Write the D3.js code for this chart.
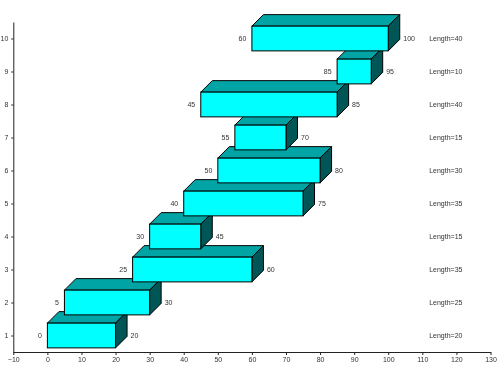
<!DOCTYPE html>
<html>
<head>
<meta charset="utf-8">
<script src="https://cdn.jsdelivr.net/npm/d3@7"></script>
<style>
  body { margin: 0; background: #fff; }
  svg { will-change: transform; }
  text { font-family: "Liberation Sans", Arial, sans-serif; font-size: 7px; fill: #333;
         -webkit-font-smoothing: antialiased; }
</style>
</head>
<body>
<svg id="chart" width="500" height="375"></svg>
<script>
const rows = [1, 2, 3, 4, 5, 6, 7, 8, 9, 10];
const starts = [0, 5, 25, 30, 40, 50, 55, 45, 85, 60];
const ends = [20, 30, 60, 45, 75, 80, 70, 85, 95, 100];
const xTicks = [-10, 0, 10, 20, 30, 40, 50, 60, 70, 80, 90, 100, 110, 120, 130];

const DEPTH = 11.5;
const HALF = 0.375; // half bar height in row units

const svg = d3.select("#chart");

const x = d3.scaleLinear().domain([-10, 130]).range([13.3, 490.5]);
const y = d3.scaleLinear().domain([0.5, 10.5]).range([352, 22]);

// axes
const xAxis = svg
  .append("g")
  .attr("transform", `translate(0, ${y(0.5)})`)
  .call(d3.axisBottom(x).tickValues(xTicks).tickSize(3).tickSizeOuter(0).tickPadding(2));
const yAxis = svg
  .append("g")
  .attr("transform", `translate(${x(-10)}, 0)`)
  .call(d3.axisLeft(y).tickValues(rows).tickSize(2).tickSizeOuter(0).tickPadding(3));

[xAxis, yAxis].forEach((a) => {
  a.selectAll("path").attr("stroke", "#222");
  a.selectAll("line").attr("stroke", "#222");
  a.selectAll("text").attr("fill", "#333").style("font-size", "7px")
    .style("font-family", '"Liberation Sans", Arial, sans-serif');
});

const data = rows.map((r, i) => ({ row: r, start: starts[i], end: ends[i] }));

const bars = svg
  .selectAll("g.bar")
  .data(data)
  .enter()
  .append("g")
  .attr("class", "bar");

const pts = (arr) => arr.map((p) => p.join(",")).join(" ");

// top face
bars
  .append("polygon")
  .attr("points", (d) => {
    const x0 = x(d.start), x1 = x(d.end), yt = y(d.row + HALF);
    return pts([[x0, yt], [x0 + DEPTH, yt - DEPTH], [x1 + DEPTH, yt - DEPTH], [x1, yt]]);
  })
  .attr("fill", "#00a4a4")
  .attr("stroke", "#000")
  .attr("stroke-width", 1);

// side face
bars
  .append("polygon")
  .attr("points", (d) => {
    const x1 = x(d.end), yt = y(d.row + HALF), yb = y(d.row - HALF);
    return pts([[x1, yt], [x1 + DEPTH, yt - DEPTH], [x1 + DEPTH, yb - DEPTH], [x1, yb]]);
  })
  .attr("fill", "#005656")
  .attr("stroke", "#000")
  .attr("stroke-width", 1);

// front face
bars
  .append("rect")
  .attr("x", (d) => x(d.start))
  .attr("y", (d) => y(d.row + HALF))
  .attr("width", (d) => x(d.end) - x(d.start))
  .attr("height", (d) => y(d.row - HALF) - y(d.row + HALF))
  .attr("fill", "#00ffff")
  .attr("stroke", "#000")
  .attr("stroke-width", 1);

// value labels
bars
  .append("text")
  .attr("x", (d) => x(d.start) - 5.5)
  .attr("y", (d) => y(d.row))
  .attr("dy", "0.35em")
  .attr("text-anchor", "end")
  .text((d) => d.start);

bars
  .append("text")
  .attr("x", (d) => x(d.end) + DEPTH + 3.5)
  .attr("y", (d) => y(d.row))
  .attr("dy", "0.35em")
  .text((d) => d.end);

svg
  .selectAll("text.len")
  .data(data)
  .enter()
  .append("text")
  .attr("class", "len")
  .attr("x", x(112))
  .attr("y", (d) => y(d.row))
  .attr("dy", "0.35em")
  .text((d) => `Length=${d.end - d.start}`);
</script>
</body>
</html>
